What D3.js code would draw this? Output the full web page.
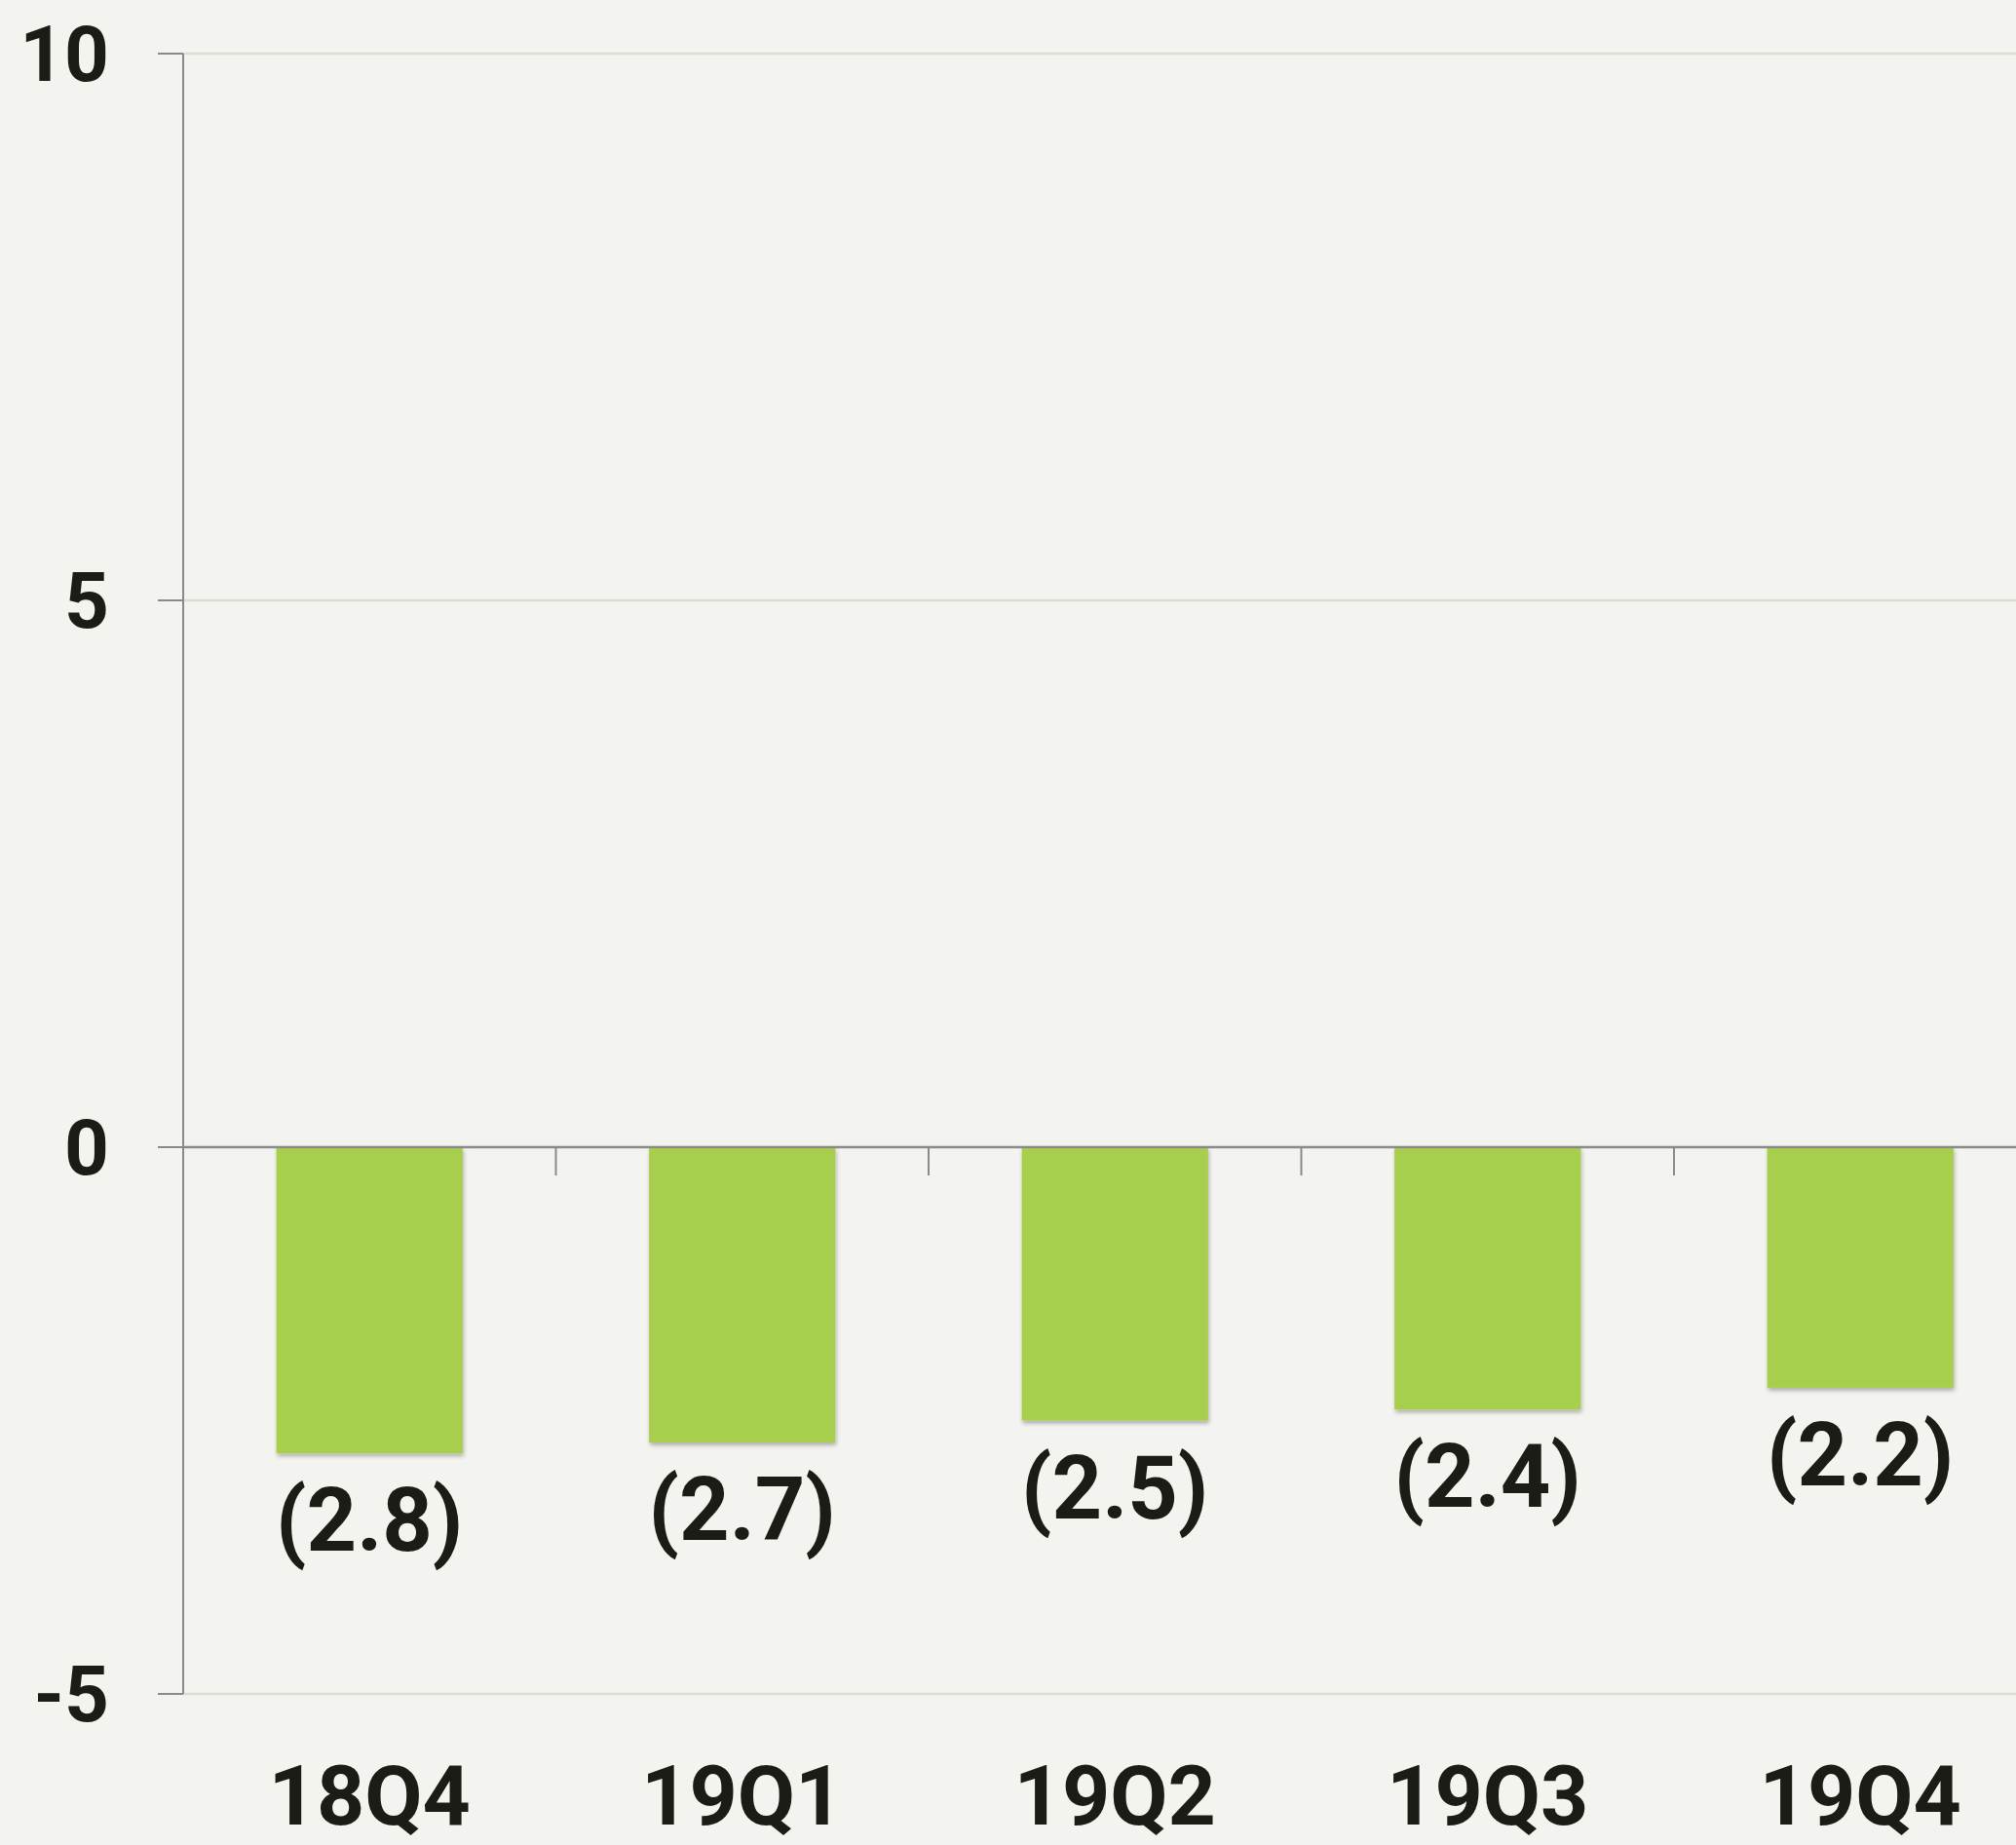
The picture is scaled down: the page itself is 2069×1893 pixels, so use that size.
<!DOCTYPE html>
<html>
<head>
<meta charset="utf-8">
<script src="https://cdn.jsdelivr.net/npm/d3@7"></script>
<style>
  html, body { margin: 0; padding: 0; background: #f3f3ef; }
  svg { display: block; font-family: Roboto, "Liberation Sans", sans-serif; font-weight: 700; }
</style>
</head>
<body>
<svg id="chart"></svg>
<script>
// quarters and values (percent)
const quarters = ['18Q4', '19Q1', '19Q2', '19Q3', '19Q4'];
const values = [-2.8, -2.7, -2.5, -2.4, -2.2];
const yTicks = [-5, 0, 5, 10];

const width = 2069, height = 1893;
const margin = { top: 55, left: 188 };

const svg = d3.select('#chart')
  .attr('width', width)
  .attr('height', height);

svg.append('rect')
  .attr('width', width)
  .attr('height', height)
  .attr('fill', '#f3f3ef');

// soft shadow under bars
const defs = svg.append('defs');
defs.append('filter')
  .attr('id', 'shadow')
  .attr('x', '-10%').attr('y', '-10%')
  .attr('width', '130%').attr('height', '130%')
  .append('feDropShadow')
  .attr('dx', 1).attr('dy', 3)
  .attr('stdDeviation', 2)
  .attr('flood-color', '#000')
  .attr('flood-opacity', 0.28);

const x = d3.scaleBand()
  .domain(quarters)
  .range([margin.left, margin.left + 382.5 * quarters.length])
  .paddingInner(0.5)
  .paddingOuter(0.25);

// band boundaries for the category ticks
const step = x.step();
const x0 = margin.left;

const y = d3.scaleLinear()
  .domain([-5, 10])
  .range([1738, margin.top]);

// gridlines
svg.append('g')
  .selectAll('line')
  .data(yTicks.filter(d => d !== 0))
  .join('line')
  .attr('x1', x0)
  .attr('x2', width)
  .attr('y1', d => y(d))
  .attr('y2', d => y(d))
  .attr('stroke', '#dedbd6')
  .attr('stroke-width', 2.5);

// y ticks
svg.append('g')
  .selectAll('line')
  .data(yTicks)
  .join('line')
  .attr('x1', 162)
  .attr('x2', x0)
  .attr('y1', d => y(d))
  .attr('y2', d => y(d))
  .attr('stroke', '#8a8a8a')
  .attr('stroke-width', 2);

// y axis line
svg.append('line')
  .attr('x1', x0).attr('x2', x0)
  .attr('y1', y(10)).attr('y2', y(-5))
  .attr('stroke', '#8a8a8a')
  .attr('stroke-width', 2);

// bars
svg.append('g')
  .selectAll('rect')
  .data(values)
  .join('rect')
  .attr('x', (d, i) => x(quarters[i]))
  .attr('width', x.bandwidth())
  .attr('y', d => y(Math.max(0, d)))
  .attr('height', d => Math.abs(y(d) - y(0)))
  .attr('fill', '#a7cf4e')
  .attr('filter', 'url(#shadow)');

// zero line
svg.append('line')
  .attr('x1', x0).attr('x2', width)
  .attr('y1', y(0)).attr('y2', y(0))
  .attr('stroke', '#8a8a8a')
  .attr('stroke-width', 2.5);

// category ticks on the zero line
svg.append('g')
  .selectAll('line')
  .data(d3.range(quarters.length))
  .join('line')
  .attr('x1', i => x0 + i * step)
  .attr('x2', i => x0 + i * step)
  .attr('y1', y(0))
  .attr('y2', y(0) + 29)
  .attr('stroke', '#8a8a8a')
  .attr('stroke-width', 2);

// y tick labels
svg.append('g')
  .selectAll('text')
  .data(yTicks)
  .join('text')
  .attr('x', 112)
  .attr('y', d => y(d) + 28)
  .attr('text-anchor', 'end')
  .attr('font-size', 80)
  .attr('fill', '#1c1c17')
  .text(d => d);

// value labels below the bars
svg.append('g')
  .selectAll('text')
  .data(values)
  .join('text')
  .attr('x', (d, i) => x(quarters[i]) + x.bandwidth() / 2)
  .attr('y', d => y(d) + 100)
  .attr('text-anchor', 'middle')
  .attr('font-size', 90)
  .attr('fill', '#1c1c17')
  .text(d => '(' + Math.abs(d).toFixed(1) + ')');

// category labels
svg.append('g')
  .selectAll('text')
  .data(quarters)
  .join('text')
  .attr('x', d => x(d) + x.bandwidth() / 2)
  .attr('y', 1872)
  .attr('text-anchor', 'middle')
  .attr('font-size', 86)
  .attr('fill', '#1c1c17')
  .text(d => d);
</script>
</body>
</html>
